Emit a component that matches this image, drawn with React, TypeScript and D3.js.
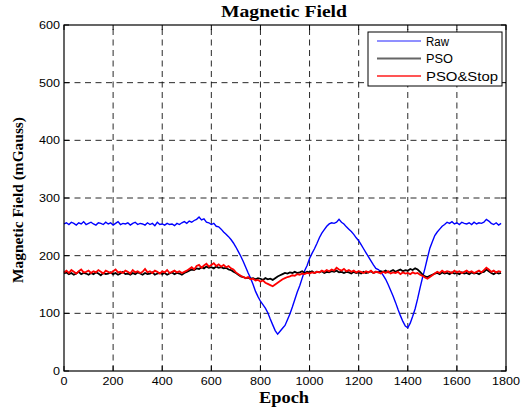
import React from "react";
import * as d3 from "d3";

const EPOCH_STEP = 10;
const X_TICKS = [0, 200, 400, 600, 800, 1000, 1200, 1400, 1600, 1800];
const Y_TICKS = [0, 100, 200, 300, 400, 500, 600];
const SERIES_NAMES = ["Raw", "PSO", "PSO&Stop"];

const RAW = [
  255,257,254,258,256,253,257,255,259,254,
  256,258,255,253,257,256,254,258,255,257,
  253,256,259,254,256,255,257,253,256,258,
  254,256,255,253,257,254,256,252,258,254,
  255,253,256,254,255,252,256,254,257,259,
  256,260,258,261,263,267,262,264,258,257,
  254,256,251,250,246,241,237,233,228,222,
  215,207,199,190,180,170,161,150,138,129,
  121,115,109,101,90,80,70,64,69,74,
  79,89,99,111,124,137,148,161,174,183,
  195,204,212,221,231,239,245,251,255,257,
  256,258,263,258,255,250,246,242,237,231,
  226,219,212,205,198,191,184,178,176,172,
  166,159,150,140,130,119,107,96,86,78,
  75,83,95,108,125,144,162,178,196,213,
  224,235,241,246,251,254,258,256,259,255,
  257,254,258,256,255,257,254,258,255,257,
  256,258,263,260,256,254,257,253,256
];

const PSO = [
  169,171,168,170,167,169,172,168,170,169,
  167,170,168,171,169,166,170,168,169,171,
  168,170,167,169,172,168,169,167,170,168,
  171,169,167,170,168,169,171,167,169,170,
  168,170,167,169,171,168,170,169,167,170,
  172,174,176,175,178,177,180,178,181,179,
  180,178,181,179,180,178,179,176,175,172,
  170,167,164,163,161,162,160,161,159,161,
  160,158,161,159,160,158,161,164,166,168,
  170,169,171,170,172,170,171,173,170,172,
  171,173,170,172,171,173,170,172,171,173,
  172,174,171,172,170,172,171,169,172,170,
  171,169,172,170,171,173,170,172,171,173,
  172,174,171,173,175,172,174,176,173,175,
  174,177,175,178,176,172,167,164,163,165,
  167,169,170,168,171,169,170,168,171,169,
  170,168,171,169,170,168,171,169,170,168,
  171,172,176,173,170,168,171,169,170
];

const PSO_STOP = [
  171,174,170,175,172,169,173,176,171,172,
  174,170,173,171,175,172,169,174,172,170,
  173,176,171,172,170,174,172,169,175,171,
  173,170,172,177,171,173,170,174,172,169,
  173,171,175,170,172,174,171,173,170,172,
  174,177,180,176,182,184,179,183,186,181,
  184,187,182,185,181,184,180,182,178,176,
  171,168,165,163,161,163,159,160,157,158,
  155,157,153,151,149,147,150,153,156,159,
  161,163,164,166,165,168,167,169,168,170,
  169,171,170,172,171,174,172,175,173,176,
  174,179,176,174,177,173,175,172,174,171,
  173,172,170,173,171,174,170,172,171,169,
  172,170,173,169,171,170,172,168,171,169,
  170,168,171,169,170,167,165,162,160,163,
  166,169,172,170,174,171,173,172,170,174,
  171,173,170,172,174,171,173,170,172,174,
  171,175,179,176,172,174,171,173,172
];

const SERIES = [
  { name: SERIES_NAMES[0], values: RAW, color: "#0000ff", width: 1.4 },
  { name: SERIES_NAMES[1], values: PSO, color: "#000000", width: 1.8 },
  { name: SERIES_NAMES[2], values: PSO_STOP, color: "#ff0000", width: 1.8 },
];

const W = 530;
const H = 414;
const L = 64, R = 506, T = 25, B = 371;

export default function App() {
  const x = d3.scaleLinear().domain([0, 1800]).range([L, R]);
  const y = d3.scaleLinear().domain([0, 600]).range([B, T]);
  const line = d3
    .line<number>()
    .x((_, i) => x(i * EPOCH_STEP))
    .y((d) => y(d));

  const sans = "'Liberation Sans', Arial, sans-serif";
  const serif = "'Liberation Serif', 'Times New Roman', serif";
  const tlen = (s: string) => (s.length === 1 ? 7 : s.length === 3 ? 21 : 28);

  const legendX = 368, legendY = 32, legendW = 134, legendH = 54;
  const legendColors = ["#2020ff", "#666666", "#ff5555"];
  const legendLens = [23, 27, 72];

  return (
    <svg
      width={W}
      height={H}
      style={{ position: "absolute", left: 0, top: 0, background: "#fff" }}
    >
      <rect x={0} y={0} width={W} height={H} fill="#fff" />
      {/* grid */}
      <g stroke="#111" strokeWidth={0.9} strokeDasharray="6,4.5">
        {X_TICKS.filter((t) => t > 0 && t < 1800).map((t) => (
          <line key={"gx" + t} x1={x(t)} x2={x(t)} y1={B} y2={T} />
        ))}
        {Y_TICKS.filter((t) => t > 0 && t < 600).map((t) => (
          <line key={"gy" + t} x1={L} x2={R} y1={y(t)} y2={y(t)} />
        ))}
      </g>
      {/* data */}
      <g fill="none" strokeLinejoin="miter">
        {SERIES.map((s) => (
          <path key={s.name} d={line(s.values) || ""} stroke={s.color} strokeWidth={s.width} />
        ))}
      </g>
      {/* frame */}
      <rect x={L} y={T} width={R - L} height={B - T} fill="none" stroke="#000" strokeWidth={1.2} />
      {/* ticks */}
      <g stroke="#000" strokeWidth={1}>
        {X_TICKS.map((t) => (
          <g key={"tx" + t}>
            <line x1={x(t)} x2={x(t)} y1={B} y2={B - 5} />
            <line x1={x(t)} x2={x(t)} y1={T} y2={T + 5} />
          </g>
        ))}
        {Y_TICKS.map((t) => (
          <g key={"ty" + t}>
            <line x1={L} x2={L + 5} y1={y(t)} y2={y(t)} />
            <line x1={R} x2={R - 5} y1={y(t)} y2={y(t)} />
          </g>
        ))}
      </g>
      {/* tick labels */}
      <g fontFamily={sans} fontSize={11} fill="#000">
        {X_TICKS.map((t) => (
          <text
            key={"lx" + t}
            x={x(t)}
            y={385}
            textAnchor="middle"
            textLength={tlen(String(t))}
            lengthAdjust="spacingAndGlyphs"
          >
            {t}
          </text>
        ))}
        {Y_TICKS.map((t) => (
          <text
            key={"ly" + t}
            x={60}
            y={y(t) + 4}
            textAnchor="end"
            textLength={tlen(String(t))}
            lengthAdjust="spacingAndGlyphs"
          >
            {t}
          </text>
        ))}
      </g>
      {/* title and axis labels */}
      <text
        x={284}
        y={17}
        textAnchor="middle"
        fontFamily={serif}
        fontWeight="bold"
        fontSize={16}
        textLength={126}
        lengthAdjust="spacingAndGlyphs"
      >
        Magnetic Field
      </text>
      <text
        x={284}
        y={403}
        textAnchor="middle"
        fontFamily={serif}
        fontWeight="bold"
        fontSize={16}
        textLength={50}
        lengthAdjust="spacingAndGlyphs"
      >
        Epoch
      </text>
      <text
        transform="translate(23,200) rotate(-90)"
        textAnchor="middle"
        fontFamily={serif}
        fontWeight="bold"
        fontSize={14}
        textLength={166}
        lengthAdjust="spacingAndGlyphs"
      >
        Magnetic Field (mGauss)
      </text>
      {/* legend */}
      <rect x={legendX} y={legendY} width={legendW} height={legendH} fill="#fff" stroke="#000" strokeWidth={1} />
      {SERIES.map((s, i) => {
        const ly = 41 + i * 17.5;
        return (
          <g key={"lg" + s.name}>
            <line
              x1={377}
              x2={421}
              y1={ly}
              y2={ly}
              stroke={legendColors[i]}
              strokeWidth={i === 0 ? 1 : 2}
            />
            <text
              x={426}
              y={ly + 4.5}
              fontFamily={sans}
              fontSize={12.5}
              textLength={legendLens[i]}
              lengthAdjust="spacingAndGlyphs"
            >
              {s.name}
            </text>
          </g>
        );
      })}
    </svg>
  );
}
